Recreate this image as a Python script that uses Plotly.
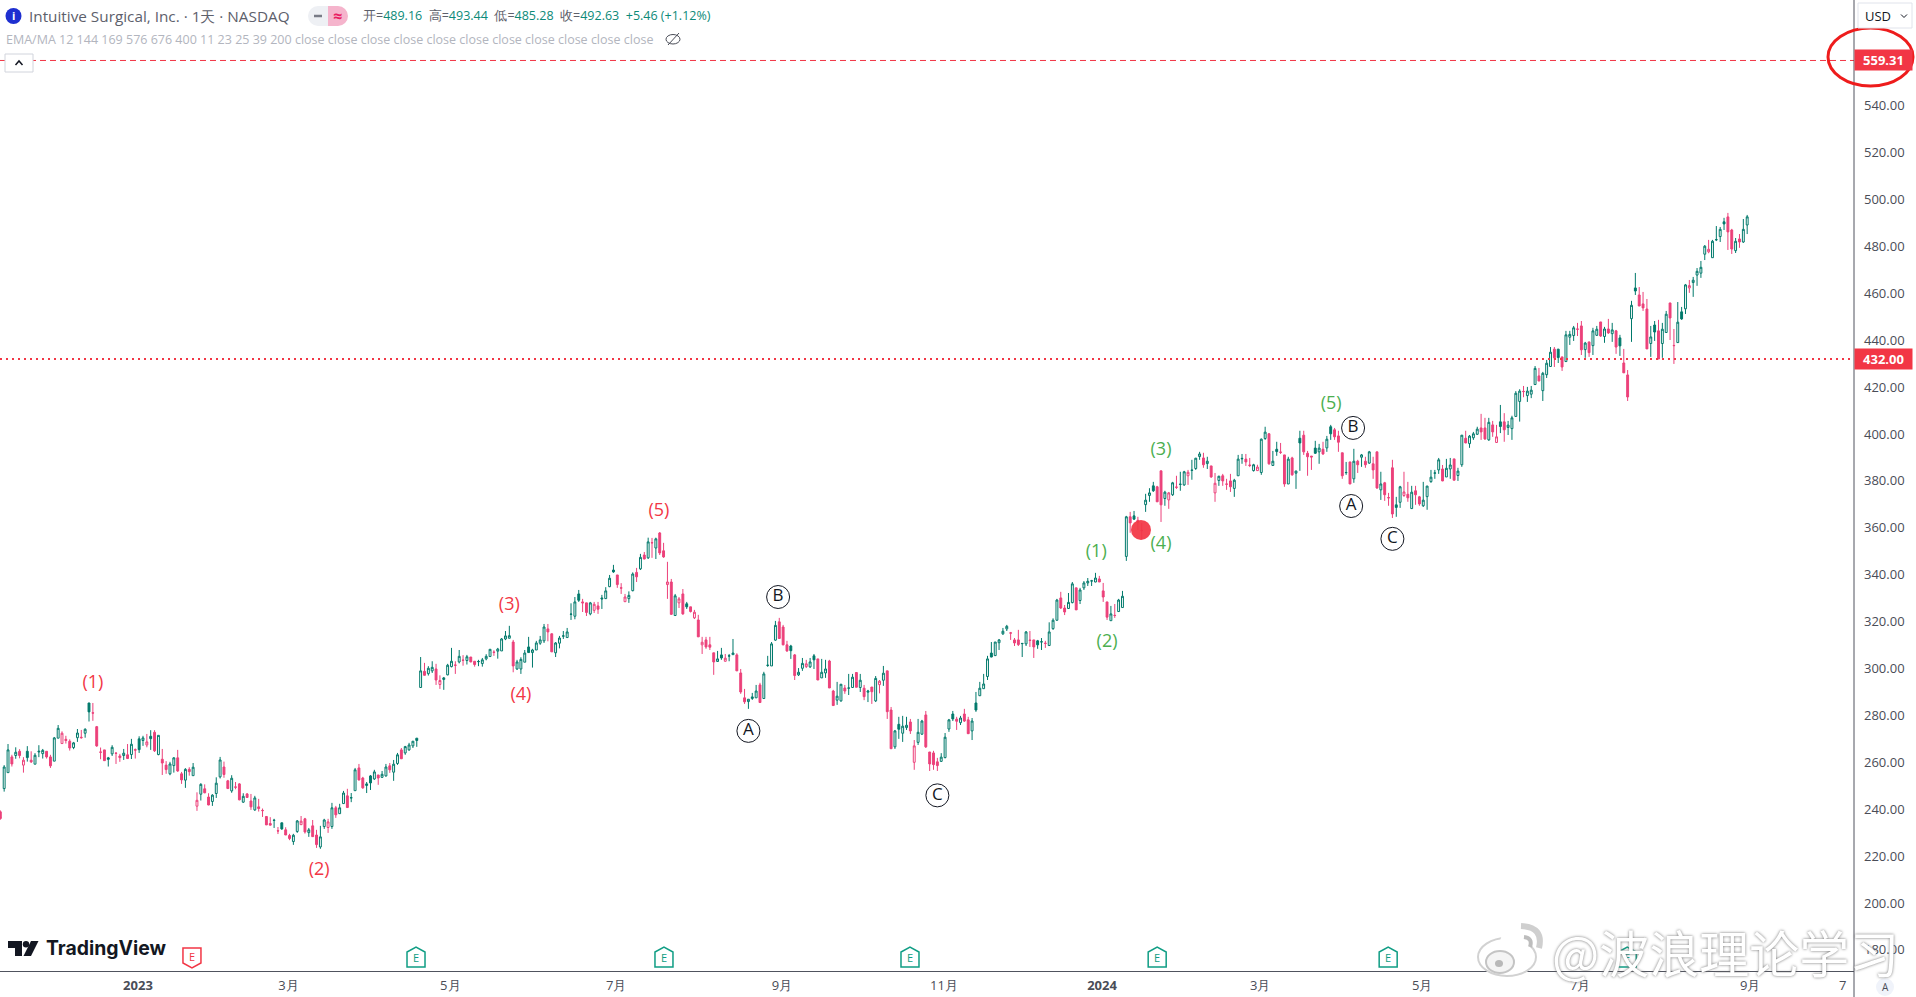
import plotly.graph_objects as go

opens = [238.9,248.8,255.6,262.3,262.9,264.7,258.8,264.7,260.9,259.2,
264.4,263.7,264.7,262.3,260.5,270.3,268.0,269.8,269.0,266.3,
270.5,270.7,272.4,285.3,281.1,275.2,264.4,265.3,261.9,263.6,
263.9,262.7,262.9,263.2,263.3,265.4,270.0,269.3,267.4,271.1,
272.8,263.3,261.3,258.8,255.1,258.6,261.9,255.1,252.4,257.0,
254.3,241.3,246.4,248.7,245.2,243.3,246.7,253.8,258.0,252.1,
247.8,249.5,250.8,243.0,246.5,243.5,239.7,241.0,239.5,236.9,
233.9,235.2,230.8,234.2,231.2,228.8,226.2,230.5,233.4,235.9,
230.0,232.9,229.0,223.9,232.6,232.2,232.6,240.6,238.1,242.4,
245.7,244.8,247.9,257.6,253.3,250.1,254.2,252.9,254.6,253.6,
254.2,258.5,255.8,259.5,265.3,264.0,265.3,267.0,270.3,291.9,
298.8,297.8,299.0,299.8,293.2,295.3,297.3,300.8,301.5,302.8,
303.6,303.4,304.9,303.1,302.9,302.1,304.1,305.1,307.0,307.4,
307.5,312.6,312.9,311.3,299.8,299.8,302.7,309.2,306.8,307.9,
310.8,311.8,316.9,314.8,306.7,310.8,313.8,313.2,323.1,322.3,
331.8,328.4,328.0,323.3,324.8,326.7,330.1,329.8,334.9,342.0,
339.9,334.4,328.5,329.8,333.2,341.0,342.5,348.4,347.2,353.7,
351.4,357.8,350.2,335.8,336.9,322.6,328.0,331.8,327.6,326.3,
321.6,320.7,310.1,312.2,310.1,306.7,303.0,305.8,303.1,305.3,
305.9,305.8,298.1,287.5,285.9,287.2,287.5,293.0,287.2,301.3,
301.1,312.1,319.9,317.7,310.1,309.6,305.8,297.3,300.1,300.8,
300.7,305.4,304.1,296.0,298.1,303.2,290.4,286.5,286.2,291.7,
291.6,291.9,298.3,291.9,291.6,289.9,292.1,286.2,293.1,295.0,
299.0,282.3,266.6,276.2,272.4,274.8,277.2,260.0,268.5,272.0,
280.2,264.4,264.0,260.2,260.4,262.0,274.2,280.6,278.4,276.9,
280.6,278.1,273.4,285.3,288.4,291.4,296.6,306.6,305.5,311.0,
314.8,316.9,315.2,312.2,312.2,310.6,310.5,312.1,312.2,311.8,
311.3,310.8,309.8,317.0,320.6,330.1,325.8,325.6,328.1,334.4,
329.0,334.4,336.5,337.3,336.9,338.2,333.1,328.4,320.4,322.7,
324.3,326.0,347.8,364.7,365.1,363.2,358.9,369.9,373.8,377.9,
377.5,384.3,372.5,371.9,374.1,377.4,378.5,378.3,382.2,384.5,
385.3,390.4,389.8,387.4,386.4,374.9,380.2,382.2,378.7,380.0,
376.8,382.2,389.4,389.3,386.8,384.4,384.4,383.6,398.1,400.1,
386.6,393.5,392.3,391.1,378.7,389.8,383.3,398.2,399.5,391.8,
390.6,394.0,392.4,393.5,394.1,403.1,401.8,399.2,392.0,383.5,
388.1,380.9,388.4,390.1,388.4,387.6,387.3,392.4,376.2,379.2,
372.9,385.6,369.8,370.9,373.8,374.3,368.2,375.8,373.2,369.4,
373.3,379.7,383.3,384.7,385.1,381.7,385.1,389.4,382.3,386.9,
398.2,395.9,398.4,399.9,402.6,402.6,397.5,403.9,396.4,405.2,
405.2,402.8,402.3,407.5,413.9,418.2,416.4,417.0,421.1,424.8,
418.5,425.3,428.8,436.2,436.2,432.9,430.9,441.3,442.0,444.8,
446.1,436.0,439.3,437.7,442.1,447.8,441.6,444.8,442.8,444.0,
441.0,430.3,425.2,449.2,462.3,459.3,455.5,453.3,438.6,446.5,
444.0,438.6,443.3,455.9,437.8,439.0,452.1,453.4,462.3,464.6,
467.8,468.6,476.7,477.7,475.2,482.8,484.2,490.5,492.6,487.0,
478.2,483.2,481.9,489.16]

highs = [239.5,258.8,267.8,263.2,266.4,265.6,262.2,266.9,264.7,263.9,
267.3,265.7,264.7,263.2,270.8,275.9,273.2,271.3,269.8,268.7,
274.2,273.8,274.5,285.3,285.3,275.5,266.3,265.3,262.3,267.3,
264.4,263.6,265.7,267.8,270.0,265.9,271.1,271.3,272.1,273.7,
273.7,271.5,265.7,260.5,260.2,262.2,265.3,255.9,257.5,257.9,
259.7,247.2,251.1,250.6,246.8,246.4,253.6,262.3,260.3,252.5,
254.5,251.6,251.1,246.8,246.9,246.5,245.7,244.4,240.3,236.9,
236.6,235.9,232.4,234.2,232.3,229.5,229.5,235.4,237.1,236.3,
232.0,235.4,231.2,232.9,235.9,235.9,242.7,241.4,242.3,247.8,
248.7,246.9,257.6,259.3,253.8,251.6,254.6,256.8,254.6,256.3,
259.3,259.7,261.0,264.0,266.1,267.0,268.3,269.0,270.3,304.9,
302.4,301.0,303.1,302.0,297.1,296.4,302.0,308.8,303.1,307.9,
305.7,305.8,304.9,303.1,303.7,304.5,306.1,308.2,307.8,308.8,
313.0,316.0,318.2,312.2,303.7,304.8,307.9,313.5,308.4,311.8,
313.9,319.0,319.0,315.0,311.3,313.9,316.0,317.3,327.8,330.5,
333.5,329.7,328.0,328.4,328.4,328.4,331.4,334.7,339.9,344.2,
339.9,336.4,331.8,332.9,341.0,342.9,348.9,349.7,355.8,355.7,
355.8,358.2,353.6,345.5,338.2,331.8,330.5,333.9,328.4,326.3,
325.0,322.9,313.5,313.5,313.5,306.7,307.5,308.8,306.2,306.2,
312.6,306.5,299.8,291.3,287.0,289.6,293.0,293.9,298.6,305.4,
311.3,320.3,321.6,318.6,311.8,310.1,306.2,300.2,304.5,303.7,
304.5,306.2,304.1,304.1,303.7,303.7,290.9,294.3,293.4,293.0,
297.7,297.7,298.5,297.7,293.0,290.9,292.1,296.8,295.1,301.1,
299.0,283.6,273.8,279.4,279.8,279.4,278.5,269.5,278.5,278.1,
281.9,264.4,264.9,261.9,263.9,272.5,278.5,281.9,279.4,279.8,
282.8,279.4,278.9,290.0,294.3,297.7,305.4,311.3,311.3,312.6,
317.3,318.6,315.6,313.0,316.5,310.8,316.0,316.0,312.2,312.2,
313.0,311.8,319.7,321.4,329.7,332.7,327.1,332.2,336.9,334.4,
334.4,337.3,338.6,337.8,340.8,339.5,336.5,328.4,326.7,327.5,
329.7,333.1,365.1,366.8,367.2,364.7,362.0,374.5,376.9,379.6,
377.9,384.3,375.8,375.3,379.6,382.2,383.9,384.3,384.7,389.0,
389.8,392.4,392.0,390.3,386.4,383.4,382.2,383.0,380.9,383.0,
380.9,391.1,391.5,391.5,389.8,387.3,386.9,398.1,403.1,400.4,
392.8,396.7,396.2,391.1,390.3,390.3,384.4,401.4,401.4,392.8,
390.6,397.1,395.8,396.7,399.2,403.9,402.6,401.4,392.0,388.1,
388.1,393.7,389.0,391.5,390.3,392.8,390.3,392.4,383.9,379.6,
374.9,389.0,373.2,377.9,383.9,379.6,377.9,377.9,373.6,379.6,
377.9,384.7,384.7,389.8,386.8,389.4,389.8,389.4,385.6,399.6,
401.4,399.6,400.9,403.1,408.6,406.9,406.9,405.6,403.9,412.4,
408.9,405.6,407.8,418.3,419.1,420.5,420.1,420.5,429.0,428.2,
426.5,431.6,437.1,437.1,436.3,432.9,444.0,444.0,446.1,447.4,
448.2,439.3,439.3,445.3,446.1,447.8,445.7,449.1,447.4,444.4,
442.3,436.3,427.3,456.8,468.7,462.7,460.6,457.6,446.1,448.2,
448.7,447.4,452.5,455.9,444.8,456.3,454.2,464.0,465.7,467.0,
470.8,473.8,480.6,482.8,482.8,488.7,488.3,492.2,494.3,487.5,
483.6,485.3,491.7,493.44]

lows = [235.5,247.5,255.6,258.2,261.5,261.7,255.6,260.3,259.7,259.2,
262.2,261.6,261.6,257.6,260.5,270.3,268.0,268.0,265.0,265.6,
268.7,270.1,270.5,277.4,277.7,266.6,261.3,260.7,258.2,262.7,
259.3,260.2,261.0,261.4,261.4,261.6,264.0,267.0,266.4,265.3,
264.4,263.0,254.6,255.1,254.5,255.6,255.9,250.8,249.1,254.3,
254.3,239.3,243.7,246.8,241.7,241.4,244.8,253.1,253.4,248.7,
247.0,248.5,243.8,242.7,244.8,239.7,239.3,239.0,236.7,233.3,
233.1,232.0,229.4,231.2,229.0,226.8,224.8,229.9,233.3,229.6,
228.2,228.3,223.5,223.1,231.6,229.9,231.6,236.3,238.1,242.4,
240.6,243.0,247.9,252.2,248.7,246.9,248.2,252.5,250.4,253.3,
253.9,255.5,252.1,258.9,261.5,263.2,264.9,266.1,266.6,291.9,
297.1,297.0,298.1,293.0,291.3,290.9,297.1,300.5,297.7,302.2,
301.2,301.7,302.7,300.8,301.0,300.8,303.5,305.1,305.4,304.2,
307.5,312.1,312.9,298.4,299.4,297.7,302.7,306.7,300.4,307.9,
310.1,310.9,311.6,307.1,304.9,308.6,312.6,313.2,320.7,321.0,
328.4,324.1,322.4,322.7,323.7,323.3,325.4,329.7,334.7,340.8,
334.4,331.8,328.4,328.0,332.9,336.9,342.0,346.6,346.7,347.2,
346.7,348.4,347.2,329.7,322.9,322.4,325.8,322.9,325.4,323.9,
321.1,313.5,306.2,308.4,307.9,297.3,302.8,303.7,303.0,303.1,
305.8,299.0,289.2,284.9,282.8,286.6,287.5,285.3,287.0,300.7,
301.1,311.8,312.6,309.9,307.1,304.1,295.1,296.8,299.0,300.2,
300.2,299.8,295.1,296.0,296.0,291.7,284.1,284.5,285.8,289.2,
288.7,291.9,292.0,290.0,286.5,285.7,284.9,285.7,289.4,292.6,
278.5,265.7,265.7,270.0,268.7,273.8,272.1,256.8,267.4,271.7,
266.1,256.3,256.8,256.3,260.2,261.7,273.0,277.6,273.8,275.9,
277.2,272.1,269.5,281.5,288.3,291.3,295.1,304.8,305.4,307.9,
314.3,316.0,312.2,309.6,309.6,304.9,309.6,309.2,304.5,308.4,
307.9,308.8,309.6,316.5,320.3,325.4,322.8,325.4,327.8,325.0,
327.5,333.5,335.2,335.2,336.8,336.9,328.4,320.7,320.4,321.6,
324.1,326.0,345.9,357.9,363.4,359.1,355.1,366.8,371.1,375.3,
371.1,362.5,369.4,368.1,373.6,376.6,375.8,377.9,378.3,380.5,
384.7,389.0,385.6,385.1,381.3,371.1,377.9,377.9,376.2,375.3,
373.2,382.2,387.3,386.4,385.9,384.0,384.3,382.6,397.5,386.9,
386.4,390.7,391.5,377.5,378.7,382.2,376.6,384.3,391.1,382.2,
384.7,391.5,387.3,391.1,392.4,397.5,397.5,392.4,380.9,382.6,
378.7,379.2,383.4,386.0,385.6,387.3,380.9,376.6,371.9,371.5,
369.4,364.2,364.7,368.5,373.2,371.1,368.1,369.8,369.4,368.9,
367.7,379.2,380.9,383.0,379.9,381.7,380.9,380.3,380.0,386.0,
396.1,394.1,397.5,399.6,397.5,397.5,397.1,398.8,396.2,400.4,
396.7,399.6,397.5,407.5,405.3,415.7,413.7,415.3,420.9,422.6,
414.1,423.9,428.6,428.6,430.3,426.9,430.8,438.0,439.7,441.8,
433.7,432.5,432.9,433.7,441.8,441.4,438.9,442.7,439.3,434.2,
433.3,426.1,414.1,439.3,459.3,454.6,452.5,436.3,432.9,439.7,
432.0,432.5,443.1,440.1,429.9,438.9,448.7,451.2,460.2,458.5,
463.2,466.6,474.2,477.1,475.1,482.3,481.9,487.0,478.5,476.8,
477.2,479.4,481.5,485.28]

closes = [236.0,258.0,265.3,259.3,264.3,262.9,260.9,262.0,260.2,263.0,
264.7,265.1,262.3,258.5,270.4,274.5,272.4,269.3,266.1,268.3,
272.5,270.5,274.1,281.5,281.0,267.0,264.3,260.7,261.3,266.4,
263.8,262.0,263.9,261.6,267.7,265.2,265.4,270.4,268.7,270.1,
264.9,271.5,259.7,256.9,259.3,261.9,256.3,252.5,257.0,256.0,
257.9,243.8,250.6,247.0,241.8,246.0,251.1,261.0,254.8,248.8,
253.2,249.4,244.0,245.5,245.0,241.0,244.8,240.3,239.4,233.3,
233.2,235.3,230.7,231.6,229.0,227.5,228.9,235.0,234.9,230.3,
231.2,228.3,224.9,228.2,235.4,234.6,240.6,237.6,240.6,246.9,
240.7,244.9,256.8,252.5,249.1,250.8,251.2,255.9,253.3,254.9,
258.0,256.8,259.2,263.2,261.5,266.7,267.4,269.0,269.3,299.0,
297.1,300.1,300.5,295.1,294.9,296.0,301.4,303.1,301.4,305.2,
303.5,305.0,302.8,301.7,303.0,303.7,305.2,308.2,306.9,308.3,
312.6,313.9,314.0,301.1,302.8,303.9,306.6,306.8,307.9,310.9,
312.2,317.7,315.6,307.1,310.9,313.0,313.9,315.6,323.2,328.4,
329.1,328.0,323.9,328.0,327.4,325.3,329.7,333.1,338.5,341.2,
335.8,334.3,330.5,331.2,340.3,339.1,347.4,346.7,354.0,353.6,
355.3,349.3,347.6,336.9,323.1,331.0,329.7,323.3,326.3,324.3,
324.0,313.5,311.2,309.2,309.1,302.8,304.1,304.5,304.4,305.4,
306.6,299.0,290.0,285.8,286.9,287.9,290.4,285.5,297.7,301.4,
310.5,318.4,312.8,310.1,307.5,307.6,297.0,298.4,302.2,302.0,
302.8,303.7,295.1,298.4,299.8,291.7,284.2,288.2,293.3,290.4,
291.7,296.3,292.0,295.0,288.0,290.4,290.1,295.8,294.6,298.0,
281.6,265.8,273.4,274.1,275.4,275.8,273.4,267.0,272.8,277.6,
266.6,259.3,259.0,258.6,262.2,270.7,278.1,278.5,277.5,278.9,
277.6,272.2,277.6,282.3,291.6,293.4,304.1,304.9,311.3,312.2,
315.9,318.0,315.1,310.9,310.2,310.7,315.6,312.0,309.2,310.1,
311.4,310.7,315.6,320.6,329.2,325.8,324.1,328.2,336.1,325.0,
333.5,336.5,337.2,337.4,338.6,336.9,330.5,321.9,323.3,322.6,
329.2,330.8,364.7,362.1,363.7,362.4,358.8,371.8,374.9,375.8,
371.1,369.8,375.2,374.9,379.2,377.3,378.6,383.9,383.7,384.6,
389.7,391.5,386.9,388.4,381.7,379.0,382.0,380.0,378.6,377.5,
380.3,389.3,389.6,388.1,386.6,386.9,385.9,397.8,400.8,387.3,
388.4,392.5,392.2,378.7,389.3,382.6,384.2,396.2,392.4,390.3,
390.2,391.8,394.0,391.5,397.8,400.1,398.8,396.5,382.2,383.6,
378.7,388.4,386.9,391.1,386.9,392.4,384.7,377.0,378.7,374.1,
372.8,365.9,368.7,377.5,375.3,372.8,375.2,374.1,370.2,371.8,
377.8,381.6,383.4,389.0,380.0,385.4,386.8,380.3,384.2,399.5,
396.2,399.1,400.1,402.1,400.9,397.9,405.0,400.9,398.8,403.2,
401.8,403.8,406.9,417.4,418.3,418.1,418.3,418.7,428.0,422.6,
425.9,430.2,434.9,432.5,432.6,428.6,442.3,442.5,445.3,444.7,
435.9,438.8,434.7,444.0,444.7,441.8,444.8,443.1,444.4,437.1,
437.6,426.1,415.8,454.9,461.0,454.6,453.8,436.3,441.4,443.5,
432.0,444.7,451.1,449.5,437.7,447.7,449.1,463.6,463.3,465.6,
469.4,471.1,480.1,478.8,482.2,482.9,487.3,489.6,486.2,478.9,
482.2,481.9,487.3,492.63]

assert len(opens) == len(highs) == len(lows) == len(closes), (len(opens), len(highs), len(lows), len(closes))

price_ticks = [180,200,220,240,260,280,300,320,340,360,380,400,420,440,460,480,500,520,540]
month_ticks = [35.7,74.7,116.7,159.7,202.7,244.7,285.7,326.7,368.7,409.7,453.8,477.8]
month_labels = ["<b>2023</b>","3月","5月","7月","9月","11月","<b>2024</b>","3月","5月","7月","9月","7"]

red_labels = ["(1)","(2)","(3)","(4)","(5)"]
red_x = [24,82.7,132,135,170.8]
red_y = [293.8,213.7,326.7,288.3,366.8]
green_labels = ["(1)","(2)","(3)","(4)","(5)"]
green_x = [284.2,287,301,301,345.1]
green_y = [349.3,311.3,392.8,353.1,412.8]
circle_labels = ["A","B","C","B","A","C"]
circle_x = [194,201.7,243,350.8,350.3,361]
circle_y = [273.4,330.5,245.9,402.6,369.3,355.3]
dot_x = [295.8]
dot_y = [359.1]
earn_up = [107.8,172.1,235.9,300,359.9,421.9]
earn_down = [49.7]
level_dash = 559.31
level_dot = 432.00

TEAL = "#00796B"
PINK = "#EC407A"
RED = "#F23645"
AXIS = "#50535E"
TXT = "#4A4D57"
FONT = "Open Sans, sans-serif"
PLOT_R, PLOT_B = 1854, 971

def px(x): return x / PLOT_R
def py(y): return 1 - y / PLOT_B

idx = list(range(len(opens)))
teal_i, pink_i = [], []
for i in idx:
    prev = closes[i-1] if i else opens[i]
    (pink_i if closes[i] < prev else teal_i).append(i)

def candles(sel, color):
    return go.Candlestick(
        x=[idx[i] for i in sel], open=[opens[i] for i in sel], high=[highs[i] for i in sel],
        low=[lows[i] for i in sel], close=[closes[i] for i in sel],
        increasing=dict(line=dict(color=color, width=1), fillcolor="white"),
        decreasing=dict(line=dict(color=color, width=1), fillcolor=color),
        showlegend=False, hoverinfo="skip")

fig = go.Figure([candles(teal_i, TEAL), candles(pink_i, PINK)])

fig.add_trace(go.Scatter(x=dot_x, y=dot_y, mode="markers", showlegend=False, hoverinfo="skip",
    marker=dict(size=20, color=RED, opacity=0.93)))
fig.add_trace(go.Scatter(x=red_x, y=red_y, mode="text", text=red_labels, showlegend=False, hoverinfo="skip",
    textfont=dict(color=RED, size=18, family=FONT)))
fig.add_trace(go.Scatter(x=green_x, y=green_y, mode="text", text=green_labels, showlegend=False, hoverinfo="skip",
    textfont=dict(color="#4CAF50", size=18, family=FONT)))
fig.add_trace(go.Scatter(x=circle_x, y=circle_y, mode="markers+text", text=circle_labels, textposition="middle center",
    showlegend=False, hoverinfo="skip", textfont=dict(color="#131722", size=17, family=FONT),
    marker=dict(size=23, color="white", line=dict(color="#131722", width=1))))

shapes, notes = [], []

def pline(x0, y0, x1, y1, color, width=1, dash=None):
    shapes.append(dict(type="line", xref="paper", yref="paper", x0=px(x0), y0=py(y0), x1=px(x1), y1=py(y1),
                       line=dict(color=color, width=width, dash=dash), layer="above"))
def prect(x0, y0, x1, y1, fill, line=None, width=1, kind="rect"):
    shapes.append(dict(type=kind, xref="paper", yref="paper", x0=px(x0), y0=py(y0), x1=px(x1), y1=py(y1),
                       fillcolor=fill, line=dict(color=line or "rgba(0,0,0,0)", width=width if line else 0), layer="above"))
def ppath(points, fill=None, line=None, width=1):
    d = "M " + " L ".join(f"{px(a):.6f} {py(b):.6f}" for a, b in points) + (" Z" if fill else "")
    shapes.append(dict(type="path", xref="paper", yref="paper", path=d, fillcolor=fill or "rgba(0,0,0,0)",
                       line=dict(color=line or "rgba(0,0,0,0)", width=width if line else 0), layer="above"))
def ptext(x, y, text, size=13, color=TXT, anchor="left", family=FONT, **kw):
    font = dict(size=size, color=color, family=family)
    font.update(kw.pop("font_extra", {}))
    notes.append(dict(x=px(x), y=py(y), xref="paper", yref="paper", text=text, showarrow=False, xanchor=anchor,
                      yanchor="middle", font=font, align="left", **kw))

# price levels and axis edge
shapes.append(dict(type="line", xref="paper", yref="y", x0=0, x1=1, y0=level_dash, y1=level_dash,
                   line=dict(color=RED, width=1, dash="6px,4px"), layer="above"))
shapes.append(dict(type="line", xref="paper", yref="y", x0=0, x1=1, y0=level_dot, y1=level_dot,
                   line=dict(color=RED, width=2, dash="2px,4px"), layer="above"))
pline(PLOT_R, 0, PLOT_R, 997, AXIS, 1)
for lv in (level_dash, level_dot):
    notes.append(dict(x=1, y=lv, xref="paper", yref="y", text=f"<b>{lv:.2f}</b>", showarrow=False, xanchor="left",
                      yanchor="middle", width=57, height=20, bgcolor=RED, borderpad=0,
                      font=dict(color="white", size=13, family=FONT)))
prect(1828, 28, 1913, 86, "rgba(0,0,0,0)", "#EE1C1C", 3, "circle")

# earnings flags
for i in earn_up:
    shapes.append(dict(type="path", xref="x", yref="paper", xsizemode="pixel", ysizemode="pixel", xanchor=i, yanchor=0,
        path="M -9 4 L 9 4 L 9 19 L 0 24 L -9 19 Z", fillcolor="white", line=dict(color="#0F9D84", width=1.5), layer="above"))
    notes.append(dict(x=i, y=py(957.5), xref="x", yref="paper", text="E", showarrow=False, yanchor="middle",
                      font=dict(size=11, color="#0F9D84", family=FONT)))
for i in earn_down:
    shapes.append(dict(type="path", xref="x", yref="paper", xsizemode="pixel", ysizemode="pixel", xanchor=i, yanchor=0,
        path="M -9 23 L 9 23 L 9 8 L 0 3 L -9 8 Z", fillcolor="white", line=dict(color=RED, width=1.5), layer="above"))
    notes.append(dict(x=i, y=py(956), xref="x", yref="paper", text="E", showarrow=False, yanchor="middle",
                      font=dict(size=11, color=RED, family=FONT)))

# header
prect(5.5, 8, 21.5, 24, "#1E2FD0", None, 0, "circle")
ptext(13.5, 16, "<b>i</b>", 11, "white", "center")
ptext(27, 16, "Intuitive Surgical, Inc. · 1天 · NASDAQ", 15.3, "#5D606B")
prect(308, 6, 328, 26, "#EEF0F4", None, 0, "circle")
prect(318, 6, 328, 26, "#EEF0F4")
prect(328, 6, 348, 26, "#F5B4CC", None, 0, "circle")
prect(328, 6, 338, 26, "#F5B4CC")
pline(314, 16, 322, 16, "#787B86", 2.5)
ptext(337.5, 16, "<b>≈</b>", 16, "#E91E63", "center")
V = "#0C8A78"
def h(lbl, val): return f'<span style="color:#5D606B">{lbl}=</span><span style="color:{V}">{val}</span>'
ptext(361, 16, h("开","489.16")+"  "+h("高","493.44")+"  "+h("低","485.28")+"  "+h("收","492.63")+
      f'  <span style="color:{V}">+5.46 (+1.12%)</span>', 12.5)
ptext(4, 39.5, "EMA/MA 12 144 169 576 676 400 11 23 25 39 200 "+" ".join(["close"]*11), 12.5, "#B2B5BE")
prect(666, 34.5, 680, 44, "rgba(0,0,0,0)", "#4A4D57", 1, "circle")
pline(668, 45, 679, 33, "#4A4D57", 1)
prect(5, 54, 33, 72, "white", "#D1D4DC", 1)
ppath([(15.5, 65), (19, 61), (22.5, 65)], None, "#131722", 1.5)

# right-hand widgets
prect(1858, 3, 1912, 28, "white", "#E0E3EB", 1)
ptext(1863, 16, "USD", 13, "#131722")
ppath([(1901, 14.5), (1904, 17.5), (1907, 14.5)], None, "#131722", 1)
prect(1876, 978, 1894, 996, "#F0F3FA", None, 0, "circle")
ptext(1885, 987, "A", 10, TXT, "center")

# TradingView mark
ppath([(8,941),(22,941),(22,956),(15,956),(15,948),(8,948)], "#131722")
prect(22.8, 941, 29.2, 947.4, "#131722", None, 0, "circle")
ppath([(31,941),(38.5,941),(31,956),(23.5,956)], "#131722")
ptext(44, 948, "<b>TradingView</b>", 19.4, "#131722", family="Inter, sans-serif")

# weibo watermark
prect(1478, 938, 1536, 976, "white", "#D2D2D2", 2, "circle")
prect(1500, 928, 1530, 958, "white", None, 0, "circle")
prect(1486, 951, 1514, 973, "#F4F4F4", "#C4C4C4", 2, "circle")
prect(1495, 960, 1503, 967, "#B8B8B8", None, 0, "circle")
shapes.append(dict(type="path", xref="paper", yref="paper", layer="above", line=dict(color="#CFCFCF", width=6),
    path=f"M {px(1521)} {py(926)} Q {px(1544)} {py(927)} {px(1539)} {py(948)}"))
shapes.append(dict(type="path", xref="paper", yref="paper", layer="above", line=dict(color="#BDBDBD", width=4),
    path=f"M {px(1524)} {py(937)} Q {px(1533)} {py(938)} {px(1530)} {py(947)}"))
notes.append(dict(x=px(1550), y=py(951), xref="paper", yref="paper", text="@波浪理论学习", showarrow=False, xanchor="left",
                  yanchor="middle", font=dict(size=50, color="white", family="Noto Sans CJK SC", shadow="0px 0px 3px #6F6F6F")))

fig.update_layout(
    width=1916, height=997, margin=dict(l=0, r=1916-PLOT_R, t=0, b=997-PLOT_B, pad=0),
    paper_bgcolor="white", plot_bgcolor="white", boxmode="overlay", boxgap=0.3, showlegend=False,
    shapes=shapes, annotations=notes, font=dict(family=FONT, color=TXT, size=13),
    xaxis=dict(type="linear", range=[-0.08, 480.7], rangeslider=dict(visible=False), showgrid=False, zeroline=False,
               tickmode="array", tickvals=month_ticks, ticktext=month_labels, ticks="", ticklen=0,
               ticklabelstandoff=2, showline=True, linecolor=AXIS, linewidth=1, tickfont=dict(size=13, color=TXT, family=FONT)),
    yaxis=dict(range=[171.0, 585.1], side="right", showgrid=False, zeroline=False, tickmode="array",
               tickvals=price_ticks, ticktext=[f"{v:.2f}" for v in price_ticks], ticks="", ticklen=0,
               ticklabelstandoff=9, showline=False, tickfont=dict(size=13, color=TXT, family=FONT)),
)

fig.write_html("out.html", config=dict(displayModeBar=False),
               post_script="document.body.style.margin='0';document.documentElement.style.overflow='hidden';")
